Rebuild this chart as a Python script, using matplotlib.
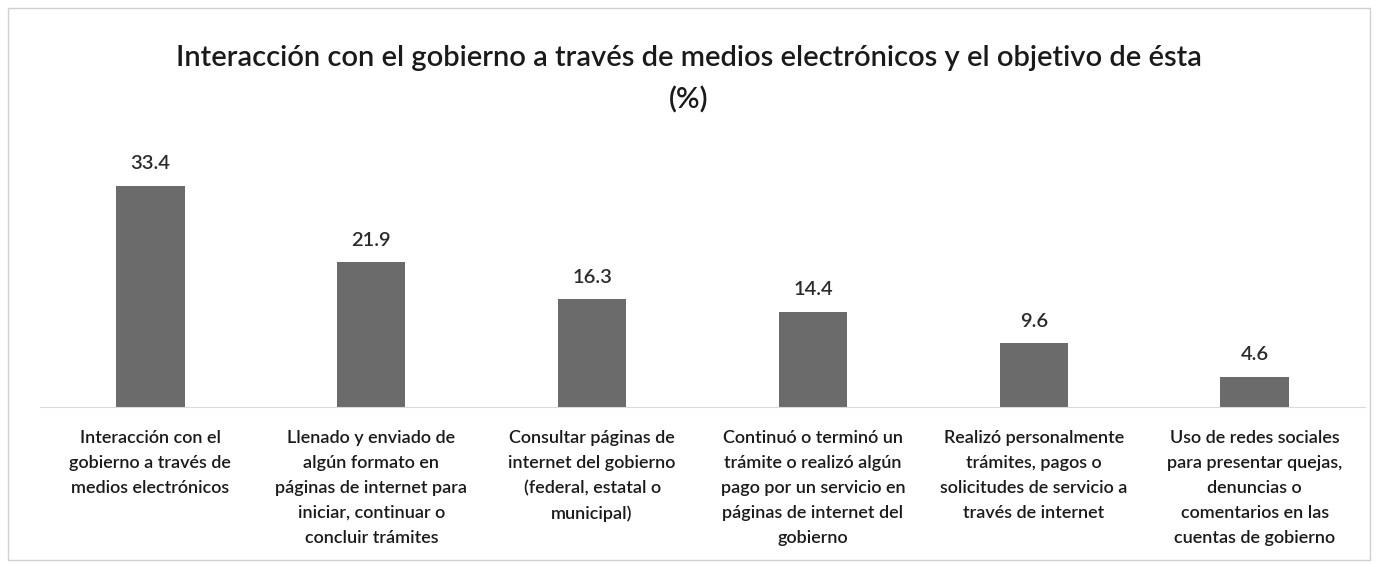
import matplotlib.pyplot as plt
from matplotlib.patches import Rectangle

# data
labels = [
    "Interacción con el\ngobierno a través de\nmedios electrónicos",
    "Llenado y enviado de\nalgún formato en\npáginas de internet para\niniciar, continuar o\nconcluir trámites",
    "Consultar páginas de\ninternet del gobierno\n(federal, estatal o\nmunicipal)",
    "Continuó o terminó un\ntrámite o realizó algún\npago por un servicio en\npáginas de internet del\ngobierno",
    "Realizó personalmente\ntrámites, pagos o\nsolicitudes de servicio a\ntravés de internet",
    "Uso de redes sociales\npara presentar quejas,\ndenuncias o\ncomentarios en las\ncuentas de gobierno",
]
values = [33.4, 21.9, 16.3, 14.4, 9.6, 4.6]
title_1 = "Interacción con el gobierno a través de medios electrónicos y el objetivo de ésta"
title_2 = "(%)"

plt.rcParams['font.family'] = ['Lato', 'DejaVu Sans']

fig = plt.figure(figsize=(13.77, 5.64), dpi=100)
# outer chart border
fig.patches.append(Rectangle((8 / 1377, 4 / 564), 1362 / 1377, 552 / 564,
                             transform=fig.transFigure, fill=False,
                             edgecolor='#d0d0d0', linewidth=1))

ax = fig.add_axes([40 / 1377, (564 - 407) / 564, 1325 / 1377, 265 / 564])
x = range(len(values))
ax.bar(x, values, width=0.31, color='#6b6b6b')
for i, v in enumerate(values):
    ax.text(i, v + 2.0, f"{v}", ha='center', va='bottom', fontsize=14.5,
            color='#2b2b2b', fontweight='semibold')

ax.set_xlim(-0.5, len(values) - 0.5)
ax.set_ylim(0, 40)
ax.set_yticks([])
ax.set_xticks([])
for s in ['top', 'right', 'left']:
    ax.spines[s].set_visible(False)
ax.spines['bottom'].set_color('#d9d9d9')

for i, lab in enumerate(labels):
    ax.text(i, -3.5, lab, ha='center', va='top', fontsize=13, color='#1a1a1a',
            linespacing=1.68, fontweight='semibold')

fig.text(0.5, 1 - 58 / 564, title_1, ha='center', va='center', fontsize=21,
         color='#1a1a1a', fontweight='semibold')
fig.text(0.5, 1 - 100 / 564, title_2, ha='center', va='center', fontsize=21,
         color='#1a1a1a', fontweight='semibold')

fig.savefig("out.png", dpi=100)
